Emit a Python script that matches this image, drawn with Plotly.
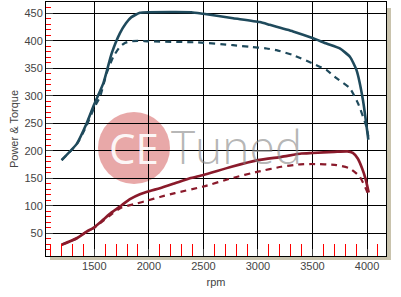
import plotly.graph_objects as go

# Power (blue) and torque (red), solid = tuned, dashed = stock
rpm_pow_tuned = [1200, 1340, 1430, 1500, 1583, 1659, 1735, 1790, 1840, 1918, 2000, 2390, 2500, 2773, 3017, 3108, 3322, 3500, 3628, 3750, 3843, 3903, 3963, 4012]
pow_tuned = [183, 213, 250, 285, 323, 377, 414, 432, 443, 451, 452, 452, 449, 441, 434, 429, 417, 405, 395, 386, 371, 347, 292, 220]

rpm_pow_stock = [1200, 1340, 1430, 1500, 1552, 1613, 1674, 1735, 1780, 1830, 1900, 2000, 2450, 2772, 2926, 3079, 3170, 3322, 3500, 3628, 3720, 3842, 3918, 3994, 4012]
pow_stock = [183, 212, 246, 279, 298, 341, 371, 389, 396, 399, 400, 399, 397, 392, 389, 386, 383, 374, 359, 347, 332, 314, 286, 244, 226]

rpm_trq_tuned = [1200, 1339, 1430, 1500, 1583, 1659, 1751, 1827, 1918, 2010, 2101, 2239, 2376, 2500, 2758, 3000, 3216, 3399, 3500, 3700, 3820, 3870, 3915, 3955, 3988, 4015]
trq_tuned = [29, 41, 53, 61, 75, 88, 101, 112, 121, 127, 132, 141, 150, 156, 171, 183, 189, 195, 196, 198, 199, 196, 186, 168, 148, 124]

rpm_trq_stock = [1200, 1340, 1430, 1500, 1583, 1659, 1751, 1888, 1994, 2101, 2239, 2500, 2758, 3000, 3216, 3368, 3500, 3720, 3842, 3933, 3994, 4015]
trq_stock = [29, 41, 53, 60, 73, 85, 97, 104, 110, 116, 123, 135, 150, 162, 171, 175, 176, 174, 168, 153, 129, 117]

x_tick0, x_dtick, x_minor = 1500, 500, 100
y_tick0, y_dtick, y_minor = 50, 50, 10
x_range = [1057, 4174]
y_range = [8.7, 470.5]

BLUE = "#1f4a5c"
RED = "#8a1a2b"
SM = 0.5

fig = go.Figure()
fig.add_trace(go.Scatter(x=rpm_pow_stock, y=pow_stock, mode="lines", line=dict(color=BLUE, width=2.2, dash="6px,5px", shape="spline", smoothing=SM)))
fig.add_trace(go.Scatter(x=rpm_pow_tuned, y=pow_tuned, mode="lines", line=dict(color=BLUE, width=2.6, shape="spline", smoothing=SM)))
fig.add_trace(go.Scatter(x=rpm_trq_stock, y=trq_stock, mode="lines", line=dict(color=RED, width=2.2, dash="6px,5px", shape="spline", smoothing=SM)))
fig.add_trace(go.Scatter(x=rpm_trq_tuned, y=trq_tuned, mode="lines", line=dict(color=RED, width=2.7, shape="spline", smoothing=SM)))

L, R, T, B = 46, 386, 2, 256
W, H = R - L, B - T
def px(x):
    return (x - L) / W
def py(y):
    return (B - y) / H

shapes = [
    dict(type="rect", xref="paper", yref="paper", x0=px(387), x1=px(391), y0=py(260), y1=py(8),
         fillcolor="#c9c3ad", line=dict(width=0), layer="below"),
    dict(type="rect", xref="paper", yref="paper", x0=px(50), x1=px(391), y0=py(260), y1=py(257),
         fillcolor="#c9c3ad", line=dict(width=0), layer="below"),
    dict(type="circle", xref="paper", yref="paper", x0=px(98), x1=px(170), y0=py(184), y1=py(112),
         fillcolor="rgba(214,96,96,0.55)", line=dict(width=0), layer="below"),
]

annotations = [
    dict(text="CE", xref="paper", yref="paper", x=px(134), y=py(147), showarrow=False,
         xanchor="center", yanchor="middle",
         font=dict(family="Open Sans", size=42, color="rgba(255,255,255,0.92)", weight=400)),
    dict(text="Tuned", xref="paper", yref="paper", x=px(169), y=py(146), showarrow=False,
         xanchor="left", yanchor="middle",
         font=dict(family="Open Sans", size=46, color="rgba(135,135,135,0.62)", weight=300)),
]

fig.update_layout(
    width=401, height=297,
    margin=dict(l=L, r=401 - R, t=T, b=297 - B),
    paper_bgcolor="white", plot_bgcolor="white",
    showlegend=False,
    shapes=shapes, annotations=annotations,
    font=dict(family="Liberation Sans", size=11, color="#444"),
)

fig.update_xaxes(
    range=x_range, tickmode="linear", tick0=x_tick0, dtick=x_dtick,
    ticks="inside", ticklen=7,
    showline=True, linecolor="black", mirror=True, showgrid=True, gridcolor="black",
    minor=dict(dtick=x_minor, ticks="inside", ticklen=12, tickcolor="red", tickwidth=1),
    tickfont=dict(size=11, color="#444"),
    title=dict(text="rpm", font=dict(size=11, color="#444"), standoff=7),
)
fig.update_yaxes(
    range=y_range, tickmode="linear", tick0=y_tick0, dtick=y_dtick,
    ticks="inside", ticklen=7,
    showline=True, linecolor="black", mirror=True, showgrid=True, gridcolor="black",
    minor=dict(dtick=y_minor, ticks="inside", ticklen=5, tickcolor="red", tickwidth=1),
    tickfont=dict(size=11, color="#444"),
    title=dict(text="Power & Torque", font=dict(size=11, color="#444"), standoff=3),
)

fig.write_html("out.html")
